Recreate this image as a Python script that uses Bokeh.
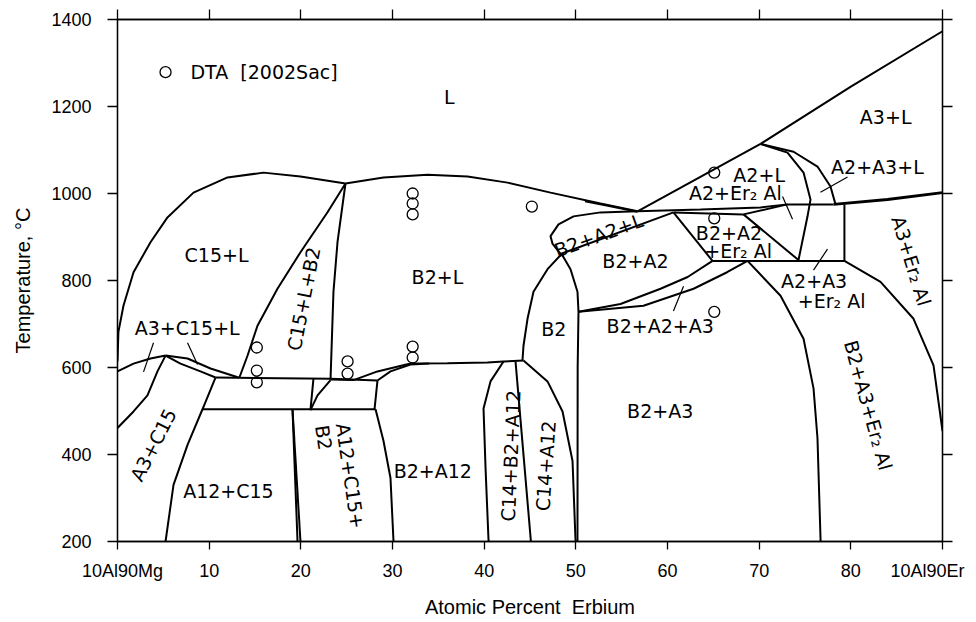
from bokeh.plotting import figure
from bokeh.models import Range1d, LinearAxis, FixedTicker
from bokeh.embed import file_html
from bokeh.resources import INLINE
from bokeh.core.properties import value

NB = "\u00a0"

# ---------------- axes ----------------
x_ticks = [0, 10, 20, 30, 40, 50, 60, 70, 80, 90]
x_tick_names = {0: NB * 2 + "10Al90Mg", 90: "10Al90Er" + NB * 2}
y_ticks = [200, 400, 600, 800, 1000, 1200, 1400]

# ---------------- phase boundaries (at.% Er, deg C) ----------------
liq_c15 = [(0, 614), (0.1, 682), (0.65, 742), (1.75, 819), (3.6, 888), (5.45, 945),
           (8.29, 1002), (12.0, 1037), (15.93, 1048), (19.96, 1039), (24.87, 1023)]
liq_b2 = [(24.87, 1023), (29.02, 1037), (33.82, 1043), (38.18, 1039), (42.55, 1025),
          (47.24, 1002), (52.69, 977), (56.73, 959)]
liq_b2_second = [(51.0, 982), (53.5, 972), (56.73, 958)]
loop_b2a2l_top = [(56.73, 959), (52.69, 956.6), (49.75, 947.4), (48.11, 929), (47.24, 902),
                  (47.45, 885), (48.33, 861)]
loop_b2a2l_bottom = [(48.33, 861), (60.65, 956.6)]
b2_left = [(48.45, 861), (46.91, 826), (45.38, 774), (44.73, 712), (44.29, 650), (44.18, 616)]
b2_right = [(48.45, 861), (49.42, 826), (50.18, 774), (50.29, 728), (50.2, 600), (50.18, 200)]
b2a2_lower_1 = [(50.29, 728), (54.87, 746), (59.24, 781), (62.2, 808), (64.91, 845)]
b2a2_lower_2 = [(50.29, 728), (57.38, 742), (62.84, 781), (66.5, 819), (68.73, 845)]
tri_top = [(60.65, 956.6), (68.29, 952), (73.09, 975)]
tri_left = [(60.65, 956.6), (64.91, 845)]
tri_right = [(68.29, 952), (74.29, 847)]
iso_845 = [(64.91, 845), (79.3, 845)]
iso_main = [(56.73, 959), (63.6, 963), (70.15, 968), (73.09, 975), (78.11, 975)]
iso_a3_top = [(78.11, 975), (84.0, 986), (90, 1002)]
liq_a2 = [(56.73, 959), (70.15, 1114)]
liq_a3 = [(70.15, 1114), (79.96, 1245), (90, 1373)]
a2_solvus = [(70.15, 1114), (73.09, 1094), (74.84, 1048), (75.6, 986), (75.27, 947), (74.29, 847)]
a3_lower = [(70.15, 1114), (73.75, 1096), (76.36, 1062), (77.78, 1016), (78.33, 975)]
v_79 = [(79.3, 975), (79.3, 845)]
b2a3_right = [(68.73, 845), (72.33, 765), (74.84, 666), (75.93, 552), (76.36, 438), (76.69, 209), (76.7, 200)]
b2a3er_right = [(79.3, 845), (83.24, 797), (86.84, 712), (89.02, 605), (90, 454)]

a3c15l_top = [(0, 591), (1.75, 609), (3.6, 620.6), (5.24, 627.4)]
a3c15l_upper = [(5.24, 627.4), (7.64, 620.6), (10.15, 597.7), (13.2, 577)]
a3c15l_lower = [(5.24, 627.4), (6.87, 609), (9.05, 591), (10.69, 577)]
a3_c15_solvus = [(0, 461), (1.75, 499), (3.27, 536), (4.36, 591), (5.24, 627.4)]
iso_577 = [(10.69, 577), (23.24, 574), (28.36, 570)]
a12c15_left = [(10.69, 577), (9.27, 504), (7.64, 422), (6.11, 330), (5.24, 200)]
iso_504 = [(9.27, 504), (28.15, 504)]
c15lb2_left = [(13.3, 577), (14.18, 627), (15.27, 696), (17.45, 781), (19.96, 865), (22.91, 957), (24.87, 1023)]
c15lb2_right = [(23.24, 573), (23.56, 774), (24.0, 888), (24.87, 1023)]
short_21 = [(21.38, 575), (21.05, 502)]
b2_arc_21 = [(21.05, 502), (21.82, 536), (23.24, 571)]
v_28 = [(28.36, 570), (28.04, 504)]
v_19a = [(19.09, 504), (19.64, 200)]
v_19b = [(19.09, 504), (19.96, 200)]
b2a12_left = [(28.15, 504), (29.02, 431), (29.78, 346), (30.11, 200)]
b2l_bottom = [(23.24, 572.6), (25.75, 571), (28.36, 591), (31.96, 609), (36.0, 609.5), (40.36, 611.4),
              (42.1, 613.7), (44.29, 616)]
b2a12_top = [(28.36, 570), (29.78, 591), (31.96, 607), (34.0, 609)]
c14_left = [(42.11, 613.7), (40.69, 568), (39.93, 506), (40.15, 369), (40.47, 205), (40.5, 200)]
c14_mid = [(43.42, 614), (45.1, 200)]
c14_right = [(44.29, 616), (46.91, 568), (48.55, 499), (49.64, 385), (49.96, 205), (50.0, 200)]

thin_pointers = [
    [(3.93, 657), (2.84, 590)],
    [(7.64, 657), (8.73, 607)],
    [(61.75, 787), (60.65, 730)],
    [(72.55, 993), (73.64, 941)],
    [(76.69, 1003), (79.64, 1038)],
    [(75.93, 824), (77.45, 872)],
]

# ---------------- DTA data ----------------
dta_x = [15.2, 15.2, 15.2, 25.1, 25.1, 32.2, 32.2, 32.2, 32.2, 32.2, 45.2, 65.1, 65.1, 65.1]
dta_t = [646, 593, 566, 614, 586, 1000, 977, 952, 648, 623, 970, 1048, 943, 728]

# ---------------- region labels ----------------
lab_text = ["L", "C15+L", "A3+C15+L", "C15+L+B2", "B2+L", "B2", "B2+A2+L", "B2+A2",
            "B2+A2", "+Er\u2082 Al", "A2+L", "A2+Er\u2082 Al", "A3+L", "A2+A3+L", "A3+Er\u2082 Al",
            "A2+A3", "+Er\u2082 Al", "B2+A3+Er\u2082 Al", "B2+A2+A3", "B2+A3", "A3+C15",
            "A12+C15", "A12+C15+", "B2", "B2+A12", "C14+B2+A12", "C14+A12"]
lab_x = [36.2, 10.8, 7.6, 20.3, 34.9, 47.6, 52.5, 56.5,
         66.7, 67.7, 70.0, 67.4, 83.8, 82.9, 86.6,
         76.0, 77.9, 81.9, 59.2, 59.2, 3.9,
         12.1, 25.4, 22.5, 34.4, 42.9, 46.7]
lab_t = [1222, 858, 691, 758, 808, 689, 904, 845,
         909, 867, 1042, 1002, 1176, 1062, 845,
         799, 753, 513, 696, 499, 422,
         316, 351, 439, 362, 397, 374]
lab_angle = [0, 0, 0, 79, 0, 0, 20, 0,
             0, 0, 0, 0, 0, 0, -73,
             0, 0, -74.5, 0, 0, 63,
             0, -81.6, -81.6, 0, 87.5, 86]

legend_marker = (5.24, 1279)
legend_text = "DTA" + NB * 2 + "[2002Sac]"
legend_text_x = 7.96

TICK_FONT = "Liberation Sans"
LAB_FONT = "DejaVu Sans"

p = figure(width=974, height=620, x_range=Range1d(0, 90), y_range=Range1d(200, 1400),
           output_backend="svg", toolbar_location=None,
           min_border_left=117, min_border_right=32, min_border_top=19, min_border_bottom=76)
p.xgrid.visible = False
p.ygrid.visible = False
p.outline_line_color = "black"
p.outline_line_width = 1.3
p.background_fill_color = "white"
p.border_fill_color = "white"

xa = p.xaxis[0]
xa.ticker = FixedTicker(ticks=x_ticks)
xa.major_label_overrides = x_tick_names
xa.axis_label = "Atomic Percent" + NB * 2 + "Erbium"
ya = p.yaxis[0]
ya.ticker = FixedTicker(ticks=y_ticks)
ya.axis_label = "Temperature, \u00b0C"
for ax in (xa, ya):
    ax.major_tick_out = 10
    ax.major_tick_in = 0
    ax.minor_tick_out = 0
    ax.minor_tick_in = 0
    ax.axis_line_width = 1.3
    ax.major_tick_line_width = 1.3
    ax.major_label_text_font = TICK_FONT
    ax.major_label_text_font_size = "18px"
    ax.major_label_text_color = "black"
    ax.axis_label_text_font = TICK_FONT
    ax.axis_label_text_font_size = "20px"
    ax.axis_label_text_font_style = "normal"
    ax.axis_label_text_color = "black"
xa.major_tick_out = 8
xa.major_label_standoff = 11
xa.axis_label_standoff = 12
ya.major_label_standoff = 16
ya.axis_label_standoff = 14

top = LinearAxis(ticker=FixedTicker(ticks=x_ticks), major_label_text_font_size="0px",
                 major_label_text_color=None,
                 major_tick_out=10, major_tick_in=0, minor_tick_out=0, minor_tick_in=0,
                 major_label_standoff=0, axis_line_width=1.3, major_tick_line_width=1.3)
right = LinearAxis(ticker=FixedTicker(ticks=y_ticks), major_label_text_font_size="0px",
                   major_label_text_color=None,
                   major_tick_out=10, major_tick_in=0, minor_tick_out=0, minor_tick_in=0,
                   major_label_standoff=0, axis_line_width=1.3, major_tick_line_width=1.3)
p.add_layout(top, "above")
p.add_layout(right, "right")

curves = [liq_c15, liq_b2, liq_b2_second, loop_b2a2l_top, loop_b2a2l_bottom, b2_left, b2_right,
          b2a2_lower_1, b2a2_lower_2, tri_top, tri_left, tri_right, iso_845, iso_main,
          liq_a2, liq_a3, a2_solvus, a3_lower, v_79, b2a3_right, b2a3er_right,
          a3c15l_top, a3c15l_upper, a3c15l_lower, a3_c15_solvus, iso_577, a12c15_left, iso_504,
          c15lb2_left, c15lb2_right, short_21, b2_arc_21, v_28, v_19a, v_19b, b2a12_left,
          b2l_bottom, b2a12_top, c14_left, c14_mid, c14_right]
for c in curves:
    p.line([q[0] for q in c], [q[1] for q in c], line_color="black", line_width=2)
p.line([q[0] for q in iso_a3_top], [q[1] for q in iso_a3_top], line_color="black", line_width=3)
for c in thin_pointers:
    p.line([q[0] for q in c], [q[1] for q in c], line_color="black", line_width=1.2)

p.scatter(dta_x, dta_t, marker="circle", size=11, fill_color=None, line_color="black", line_width=1.3)
p.scatter([legend_marker[0]], [legend_marker[1]], marker="circle", size=11, fill_color=None,
          line_color="black", line_width=1.3)
p.text([legend_text_x], [legend_marker[1]], text=[legend_text], text_font=value(LAB_FONT),
       text_font_size="19px", text_align="left", text_baseline="middle", text_color="black")

p.text(lab_x, lab_t, text=lab_text, angle=lab_angle, angle_units="deg", text_font=value(LAB_FONT),
       text_font_size="19px", text_align="center", text_baseline="middle", text_color="black")

open("out.html", "w").write(file_html(p, INLINE))
